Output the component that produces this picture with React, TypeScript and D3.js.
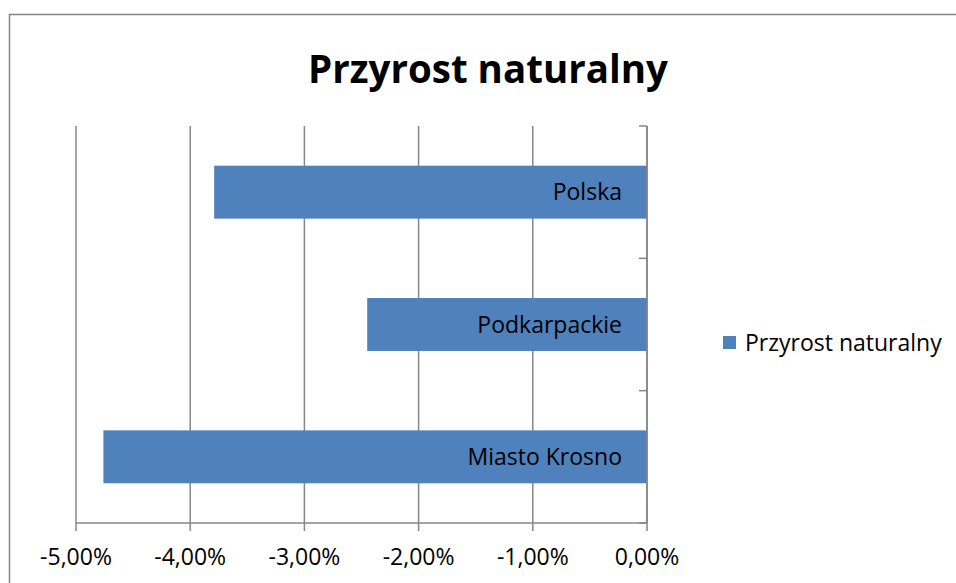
import React from "react";
import * as d3 from "d3";

const categories = ["Polska", "Podkarpackie", "Miasto Krosno"];
const values = [-3.79, -2.45, -4.76];
const xTicks = [-5, -4, -3, -2, -1, 0];
const title = "Przyrost naturalny";
const seriesName = "Przyrost naturalny";

const W = 956;
const H = 583;
const FONT = "'Open Sans', sans-serif";
const BAR = "#4F81BD";
const GRID = "#868686";

export default function App() {
  const plot = { left: 76, right: 647, top: 126, bottom: 523 };
  const x = d3.scaleLinear().domain([-5, 0]).range([plot.left, plot.right]);
  const y = d3
    .scaleBand<string>()
    .domain(categories)
    .range([plot.top, plot.bottom])
    .paddingInner(0.6)
    .paddingOuter(0.3);
  const yEdges = d3.range(categories.length + 1).map(
    (i) => plot.top + (i * (plot.bottom - plot.top)) / categories.length
  );
  const fmt = (v: number) => v.toFixed(2).replace(".", ",") + "%";

  return (
    <svg
      width={W}
      height={H}
      style={{ position: "absolute", left: 0, top: 0, display: "block" }}
      fontFamily={FONT}
    >
      <rect x={0} y={0} width={W} height={H} fill="#fff" />
      <rect x={9.5} y={14.5} width={W + 20} height={H + 20} fill="#fff" stroke={GRID} strokeWidth={1.5} />
      <text x={488} y={83} textAnchor="middle" fontSize={38.5} fontWeight="bold" fill="#000">
        {title}
      </text>
      {xTicks.map((t) => (
        <line key={"g" + t} x1={x(t)} x2={x(t)} y1={plot.top} y2={plot.bottom + 8} stroke={GRID} strokeWidth={1.5} />
      ))}
      {categories.map((c, i) => (
        <g key={c}>
          <rect
            x={x(values[i])}
            y={y(c)!}
            width={x(0) - x(values[i])}
            height={y.bandwidth()}
            fill={BAR}
          />
          <text
            x={x(0) - 25}
            y={y(c)! + y.bandwidth() / 2}
            dy="0.35em"
            textAnchor="end"
            fontSize={23}
            fill="#000"
          >
            {c}
          </text>
        </g>
      ))}
      <line x1={plot.left} x2={plot.right} y1={plot.bottom} y2={plot.bottom} stroke={GRID} strokeWidth={1.5} />
      {xTicks.map((t) => (
        <text key={"t" + t} x={x(t)} y={565} textAnchor="middle" fontSize={23} fill="#000">
          {fmt(t)}
        </text>
      ))}
      <line x1={plot.right} x2={plot.right} y1={plot.top} y2={plot.bottom} stroke={GRID} strokeWidth={1.5} />
      {yEdges.map((e, i) => (
        <line key={"yt" + i} x1={plot.right - 8} x2={plot.right} y1={e} y2={e} stroke={GRID} strokeWidth={1.5} />
      ))}
      <rect x={723} y={336} width={13} height={13} fill={BAR} />
      <text x={745} y={351} fontSize={23} fill="#000">
        {seriesName}
      </text>
    </svg>
  );
}
